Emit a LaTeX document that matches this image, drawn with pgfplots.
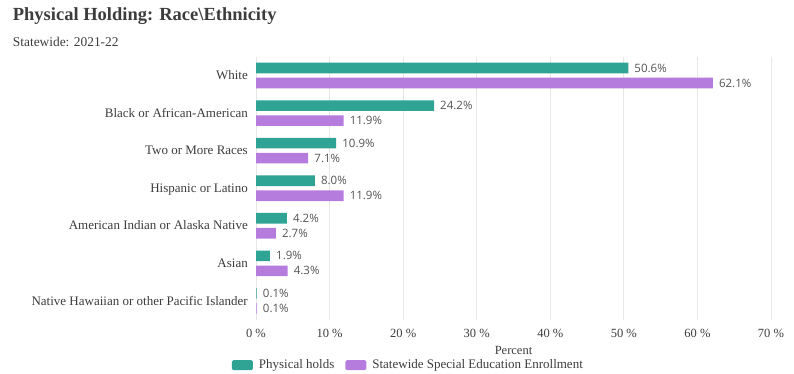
\documentclass[border=0pt]{standalone}
\usepackage{pgfplots}
\pgfplotsset{compat=1.18}
\usepackage{fontspec}
\setmainfont{Liberation Serif}
\newfontfamily\labfont{Open Sans}
\definecolor{tealbar}{RGB}{47,163,148}
\definecolor{purplebar}{RGB}{181,123,221}
\definecolor{valtext}{RGB}{85,85,85}
\definecolor{cattext}{RGB}{60,60,60}
\definecolor{gridc}{RGB}{230,230,230}
\definecolor{zeroline}{RGB}{150,150,150}
\begin{document}
\begin{tikzpicture}
\useasboundingbox (0,0) rectangle (794pt,374pt);
\node[anchor=base west, inner sep=0, text=cattext] at (12.7pt,353pt) {\fontsize{18.5}{22}\selectfont\bfseries Physical Holding: Race\textbackslash Ethnicity};
\node[anchor=base west, inner sep=0, text=cattext] at (12.7pt,327.3pt) {\fontsize{13.4}{16}\selectfont Statewide: 2021-22};
\begin{axis}[
  at={(256pt,54.3pt)}, anchor=south west,
  width=515pt, height=263pt, scale only axis,
  xmin=0, xmax=70, ymin=-0.5, ymax=6.5, y dir=reverse,
  clip=false,
  axis line style={draw=none},
  major tick length=0pt, tick style={draw=none},
  xmajorgrids, major grid style={color=gridc, line width=0.8pt},
  extra x ticks={0}, extra x tick labels={},
  extra x tick style={grid style={color=zeroline, line width=0.8pt}},
  xtick={0,10,...,70},
  xticklabels={0 \%,10 \%,20 \%,30 \%,40 \%,50 \%,60 \%,70 \%},
  xticklabel style={anchor=center, inner sep=0pt, yshift=-13.3pt, text=cattext, font=\fontsize{12.5}{15}\selectfont},
  ytick={0,...,6},
  yticklabels={White, Black or African-American, Two or More Races, Hispanic or Latino, American Indian or Alaska Native, Asian, Native Hawaiian or other Pacific Islander},
  yticklabel style={anchor=base east, inner sep=0pt, xshift=-8pt, yshift=-4.2pt, text=cattext, font=\fontsize{13}{15}\selectfont},
  xlabel={Percent},
  xlabel style={at={(axis description cs:0.5,-0.116)}, anchor=center, inner sep=0pt, text=cattext, font=\fontsize{12.5}{15}\selectfont},
  /pgf/number format/assume math mode=true,
  xbar, bar width=10.6pt,
  point meta=x,
  nodes near coords={\pgfmathprintnumber[fixed,fixed zerofill,precision=1]{\pgfplotspointmeta}\%},
  nodes near coords align={horizontal},
  every node near coord/.append style={font=\labfont\fontsize{11.5}{13}\selectfont, text=valtext, inner sep=0pt, xshift=6pt},
  legend columns=2,
  legend style={at={(axis description cs:-0.0472,-0.173)}, anchor=west, draw=none, fill=none, inner sep=0pt,
    nodes={inner sep=0pt, outer sep=0pt, text=cattext, font=\fontsize{13}{15}\selectfont},
    /tikz/every odd column/.append style={column sep=6pt},
    /tikz/every even column/.append style={column sep=11pt}},
]
\addplot[fill=tealbar, draw=none, bar shift=7.5pt,
  legend image code/.code={\fill[tealbar, rounded corners=1.5pt] (0pt,-5pt) rectangle (21pt,5pt);}]
  coordinates {(50.6,0) (24.2,1) (10.9,2) (8.0,3) (4.2,4) (1.9,5) (0.1,6)};
\addplot[fill=purplebar, draw=none, bar shift=-7.5pt,
  legend image code/.code={\fill[purplebar, rounded corners=1.5pt] (0pt,-5pt) rectangle (21pt,5pt);}]
  coordinates {(62.1,0) (11.9,1) (7.1,2) (11.9,3) (2.7,4) (4.3,5) (0.1,6)};
\legend{Physical holds, Statewide Special Education Enrollment}
\end{axis}
\end{tikzpicture}
\end{document}
